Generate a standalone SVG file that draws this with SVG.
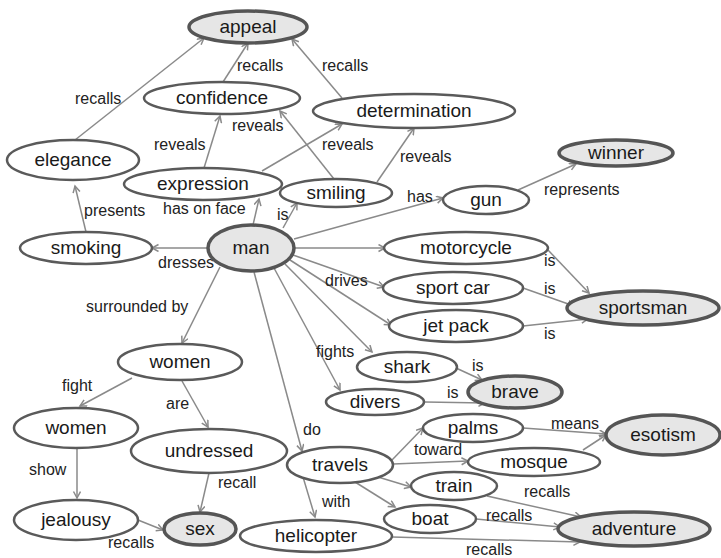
<svg xmlns="http://www.w3.org/2000/svg" width="721" height="558" viewBox="0 0 721 558">
<defs>
<style>
.n ellipse{fill:#fff;stroke:#5a5a5a;stroke-width:2.5}
.k ellipse{fill:#e6e6e6;stroke:#555;stroke-width:3.5}
.n text,.k text{font-family:"Liberation Sans",Arial,sans-serif;font-size:19px;fill:#1a1a1a;text-anchor:middle}
#edges line{stroke:#8a8a8a;stroke-width:1.5;marker-end:url(#a)}
#labels text{font-family:"Liberation Sans",Arial,sans-serif;font-size:16px;fill:#222}
</style>
<marker id="a" markerWidth="10" markerHeight="10" refX="7" refY="4" orient="auto" markerUnits="userSpaceOnUse">
<path d="M0.5,0.5 L7,4 L0.5,7.5" fill="none" stroke="#8a8a8a" stroke-width="1.5"/>
</marker>
</defs>
<rect width="721" height="558" fill="#fff"/>
<g id="edges">
<line x1="75" y1="140" x2="204" y2="38"/>
<line x1="223" y1="82" x2="248" y2="43"/>
<line x1="342" y1="98" x2="292" y2="39"/>
<line x1="204" y1="168" x2="220" y2="116"/>
<line x1="334" y1="179" x2="280" y2="111"/>
<line x1="262" y1="171" x2="342" y2="124"/>
<line x1="377" y1="182" x2="414" y2="128"/>
<line x1="518" y1="190" x2="576" y2="164"/>
<line x1="294" y1="239" x2="443" y2="198"/>
<line x1="283" y1="228" x2="297" y2="203"/>
<line x1="253" y1="225" x2="259" y2="199"/>
<line x1="86" y1="232" x2="75" y2="186"/>
<line x1="208" y1="248" x2="152" y2="248"/>
<line x1="220" y1="267" x2="182" y2="343"/>
<line x1="295" y1="248" x2="385" y2="248"/>
<line x1="293" y1="255" x2="384" y2="287"/>
<line x1="290" y1="260" x2="391" y2="325"/>
<line x1="285" y1="264" x2="372" y2="352"/>
<line x1="274" y1="268" x2="340" y2="390"/>
<line x1="254" y1="272" x2="302" y2="451"/>
<line x1="548" y1="250" x2="589" y2="293"/>
<line x1="523" y1="288" x2="574" y2="306"/>
<line x1="523" y1="326" x2="588" y2="319"/>
<line x1="456" y1="368" x2="482" y2="380"/>
<line x1="425" y1="402" x2="485" y2="403"/>
<line x1="132" y1="378" x2="80" y2="406"/>
<line x1="182" y1="381" x2="208" y2="427"/>
<line x1="77" y1="448" x2="77" y2="498"/>
<line x1="209" y1="473" x2="200" y2="512"/>
<line x1="138" y1="520" x2="163" y2="530"/>
<line x1="303" y1="477" x2="315" y2="517"/>
<line x1="392" y1="460" x2="423" y2="428"/>
<line x1="393" y1="464" x2="468" y2="461"/>
<line x1="378" y1="477" x2="411" y2="487"/>
<line x1="355" y1="482" x2="395" y2="507"/>
<line x1="523" y1="428" x2="606" y2="434"/>
<line x1="583" y1="450" x2="606" y2="435"/>
<line x1="487" y1="496" x2="581" y2="517"/>
<line x1="476" y1="519" x2="560" y2="527"/>
<line x1="392" y1="537" x2="580" y2="542"/>
</g>
<g id="labels">
<text x="75" y="104">recalls</text>
<text x="237" y="71">recalls</text>
<text x="322" y="71">recalls</text>
<text x="154" y="150">reveals</text>
<text x="232" y="131">reveals</text>
<text x="322" y="150">reveals</text>
<text x="400" y="162">reveals</text>
<text x="544" y="195">represents</text>
<text x="407" y="202">has</text>
<text x="163" y="214">has on face</text>
<text x="277" y="220">is</text>
<text x="84" y="216">presents</text>
<text x="158" y="268">dresses</text>
<text x="325" y="286">drives</text>
<text x="86" y="312">surrounded by</text>
<text x="316" y="357">fights</text>
<text x="544" y="266">is</text>
<text x="544" y="294">is</text>
<text x="544" y="339">is</text>
<text x="472" y="371">is</text>
<text x="447" y="398">is</text>
<text x="62" y="391">fight</text>
<text x="166" y="409">are</text>
<text x="303" y="435">do</text>
<text x="29" y="475">show</text>
<text x="218" y="488">recall</text>
<text x="322" y="507">with</text>
<text x="108" y="548">recalls</text>
<text x="551" y="429">means</text>
<text x="414" y="455">toward</text>
<text x="524" y="497">recalls</text>
<text x="486" y="521">recalls</text>
<text x="466" y="555">recalls</text>
</g>
<g id="appeal" class="k"><ellipse cx="248" cy="27" rx="59" ry="16"/><text x="248" y="33">appeal</text></g>
<g id="confidence" class="n"><ellipse cx="222" cy="98" rx="78" ry="16"/><text x="222" y="104">confidence</text></g>
<g id="determination" class="n"><ellipse cx="414" cy="111" rx="101" ry="17"/><text x="414" y="117">determination</text></g>
<g id="elegance" class="n"><ellipse cx="73" cy="160" rx="66" ry="20"/><text x="73" y="166">elegance</text></g>
<g id="expression" class="n"><ellipse cx="203" cy="184" rx="79" ry="16"/><text x="203" y="190">expression</text></g>
<g id="smiling" class="n"><ellipse cx="336" cy="193" rx="56" ry="14"/><text x="336" y="199">smiling</text></g>
<g id="winner" class="k"><ellipse cx="616" cy="153" rx="57" ry="13"/><text x="616" y="159">winner</text></g>
<g id="gun" class="n"><ellipse cx="486" cy="200" rx="43" ry="14"/><text x="486" y="206">gun</text></g>
<g id="smoking" class="n"><ellipse cx="86" cy="248" rx="66" ry="16"/><text x="86" y="254">smoking</text></g>
<g id="man" class="k"><ellipse cx="251" cy="248" rx="43" ry="23"/><text x="251" y="254">man</text></g>
<g id="motorcycle" class="n"><ellipse cx="466" cy="248" rx="82" ry="16"/><text x="466" y="254">motorcycle</text></g>
<g id="sportcar" class="n"><ellipse cx="453" cy="288" rx="70" ry="16"/><text x="453" y="294">sport car</text></g>
<g id="jetpack" class="n"><ellipse cx="456" cy="326" rx="67" ry="16"/><text x="456" y="332">jet pack</text></g>
<g id="sportsman" class="k"><ellipse cx="643" cy="308" rx="76" ry="17"/><text x="643" y="314">sportsman</text></g>
<g id="shark" class="n"><ellipse cx="407" cy="367" rx="50" ry="15"/><text x="407" y="373">shark</text></g>
<g id="divers" class="n"><ellipse cx="375" cy="402" rx="49" ry="13"/><text x="375" y="408">divers</text></g>
<g id="brave" class="k"><ellipse cx="515" cy="392" rx="47" ry="16"/><text x="515" y="398">brave</text></g>
<g id="women1" class="n"><ellipse cx="180" cy="362" rx="62" ry="18"/><text x="180" y="368">women</text></g>
<g id="women2" class="n"><ellipse cx="76" cy="428" rx="62" ry="20"/><text x="76" y="434">women</text></g>
<g id="undressed" class="n"><ellipse cx="209" cy="451" rx="78" ry="22"/><text x="209" y="457">undressed</text></g>
<g id="jealousy" class="n"><ellipse cx="76" cy="520" rx="62" ry="20"/><text x="76" y="526">jealousy</text></g>
<g id="sex" class="k"><ellipse cx="200" cy="529" rx="36" ry="16"/><text x="200" y="535">sex</text></g>
<g id="travels" class="n"><ellipse cx="340" cy="465" rx="53" ry="18"/><text x="340" y="471">travels</text></g>
<g id="helicopter" class="n"><ellipse cx="316" cy="536" rx="76" ry="16"/><text x="316" y="542">helicopter</text></g>
<g id="palms" class="n"><ellipse cx="473" cy="428" rx="50" ry="14"/><text x="473" y="434">palms</text></g>
<g id="mosque" class="n"><ellipse cx="534" cy="462" rx="66" ry="14"/><text x="534" y="468">mosque</text></g>
<g id="esotism" class="k"><ellipse cx="663" cy="435" rx="57" ry="20"/><text x="663" y="441">esotism</text></g>
<g id="train" class="n"><ellipse cx="454" cy="486" rx="43" ry="14"/><text x="454" y="492">train</text></g>
<g id="boat" class="n"><ellipse cx="430" cy="519" rx="46" ry="14"/><text x="430" y="525">boat</text></g>
<g id="adventure" class="k"><ellipse cx="634" cy="529" rx="76" ry="17"/><text x="634" y="535">adventure</text></g>
</svg>
